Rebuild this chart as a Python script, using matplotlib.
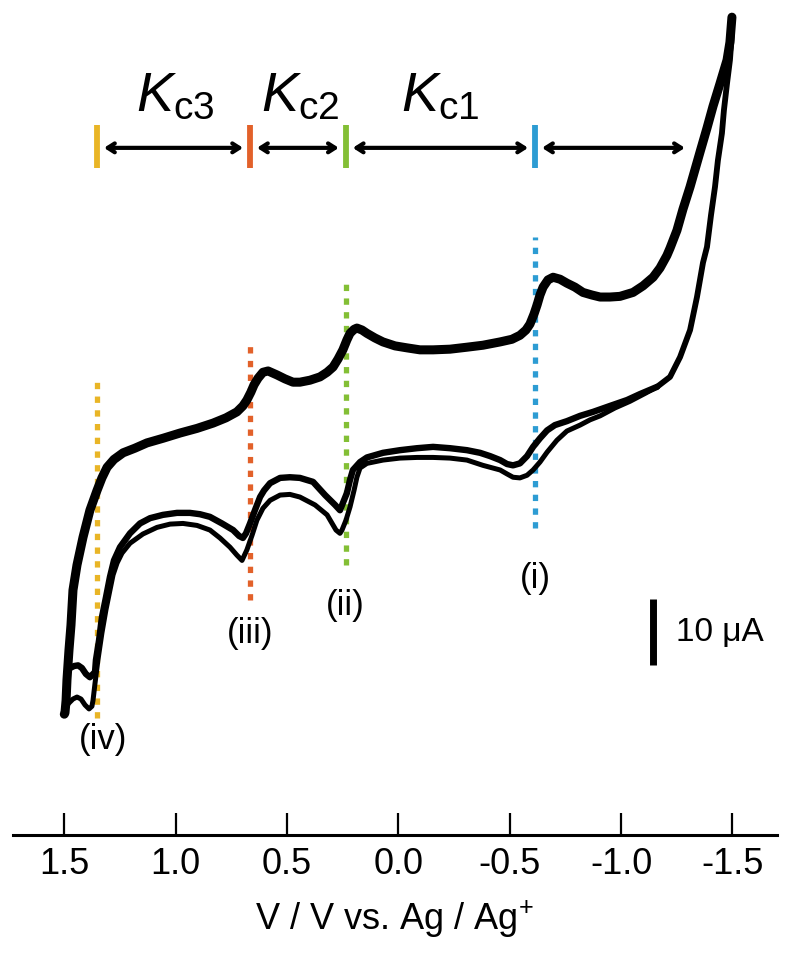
import numpy as np
import matplotlib
matplotlib.use('Agg')
from matplotlib import pyplot as plt

plt.rcParams['font.family'] = ['Liberation Sans', 'DejaVu Sans']
plt.rcParams['mathtext.fontset'] = 'custom'
plt.rcParams['mathtext.rm'] = 'Liberation Sans'
plt.rcParams['mathtext.it'] = 'Liberation Sans:italic'

# forward sweep, 1.5 V -> -1.5 V (all cycles overlap), current in uA
upper_v = [1.500, 1.497, 1.492, 1.488, 1.479, 1.470, 1.461, 1.443, 1.416, 1.385, 1.353,
           1.331, 1.308, 1.277, 1.236, 1.183, 1.129, 1.057, 0.980, 0.904, 0.832, 0.774,
           0.725, 0.698, 0.680, 0.662, 0.648, 0.630, 0.608, 0.585, 0.545, 0.509, 0.473,
           0.442, 0.397, 0.352, 0.320, 0.293, 0.271, 0.249, 0.231, 0.217, 0.199, 0.186,
           0.163, 0.141, 0.105, 0.069, 0.015, -0.039, -0.097, -0.156, -0.232, -0.308,
           -0.380, -0.457, -0.510, -0.546, -0.573, -0.591, -0.609, -0.623, -0.636, -0.650,
           -0.672, -0.695, -0.726, -0.757, -0.793, -0.829, -0.870, -0.906, -0.950, -0.995,
           -1.054, -1.099, -1.144, -1.175, -1.206, -1.220, -1.251, -1.278, -1.310, -1.355,
           -1.386, -1.413, -1.444, -1.476, -1.489, -1.498]
upper_i = [-29.4, -29.2, -27.3, -24.2, -19.7, -15.9, -10.6, -6.8, -2.6, 1.5, 4.5,
           6.4, 8.0, 9.2, 10.2, 10.9, 11.7, 12.4, 13.2, 13.9, 14.7, 15.5,
           16.4, 17.3, 18.2, 19.4, 20.5, 21.5, 22.4, 22.6, 22.0, 21.4, 20.9,
           20.9, 21.2, 21.7, 22.4, 23.2, 24.4, 25.8, 27.3, 28.3, 28.9, 29.1,
           28.8, 28.3, 27.6, 27.0, 26.4, 26.1, 25.8, 25.8, 25.9, 26.2,
           26.5, 27.0, 27.4, 28.0, 28.8, 29.7, 31.2, 32.6, 34.1, 35.3,
           36.4, 36.8, 36.5, 35.9, 35.3, 34.5, 34.1, 33.8, 33.8, 33.9,
           34.5, 35.5, 36.8, 38.2, 40.1, 41.2, 43.9, 47.1, 50.5, 55.8,
           59.4, 62.7, 66.1, 69.7, 72.4, 76.2]

# shared start of the reverse sweep at -1.5 V
turn_v = [-1.498, -1.498, -1.489, -1.476, -1.462, -1.453, -1.435, -1.422, -1.404, -1.386,
          -1.368, -1.341, -1.310, -1.265, -1.220, -1.162]
turn_i = [76.2, 73.8, 69.7, 66.2, 62.1, 58.6, 54.5, 50.5, 46.2, 41.4,
          39.0, 33.8, 28.8, 24.7, 21.7, 20.2]

# reverse sweep, cycles 2 and 3
rev_a_v = [-1.162, -1.085, -1.027, -0.950, -0.874, -0.816, -0.757, -0.703, -0.668, -0.636,
           -0.605, -0.578, -0.546, -0.515, -0.488, -0.457, -0.412, -0.367, -0.308, -0.232,
           -0.156, -0.084, -0.007, 0.069, 0.141, 0.172, 0.204, 0.217, 0.231, 0.249,
           0.262, 0.284, 0.329, 0.383, 0.442, 0.487, 0.531, 0.576, 0.603, 0.621,
           0.644, 0.666, 0.684, 0.698, 0.715, 0.742, 0.792, 0.846, 0.891, 0.936,
           0.994, 1.057, 1.115, 1.160, 1.205, 1.250, 1.277, 1.295, 1.313, 1.331,
           1.344, 1.358, 1.362, 1.385, 1.403, 1.421, 1.438, 1.456, 1.474, 1.483]
rev_a_i = [20.2, 19.1, 18.2, 17.3, 16.4, 15.8, 15.0, 14.4, 13.6, 12.4,
           11.1, 9.7, 8.6, 8.3, 8.5, 9.1, 9.7, 10.2, 10.6, 10.9,
           11.1, 10.9, 10.6, 10.2, 9.5, 8.8, 7.6, 6.1, 4.1, 2.6,
           1.5, 2.3, 3.8, 5.8, 6.4, 6.5, 6.4, 5.6, 4.5, 3.5,
           1.5, -0.5, -2.0, -2.7, -2.4, -1.5, -0.5, 0.5, 0.9, 1.1,
           1.1, 0.8, 0.3, -0.5, -2.0, -4.1, -6.1, -8.6, -11.7, -14.7,
           -18.2, -21.2, -23.0, -23.8, -23.3, -22.4, -22.0, -22.1, -22.4, -22.3]

# reverse sweep, cycle 1
rev_b_v = [-1.162, -1.108, -1.040, -0.973, -0.906, -0.861, -0.816, -0.757, -0.712, -0.668,
           -0.636, -0.605, -0.578, -0.546, -0.515, -0.488, -0.457, -0.380, -0.308, -0.232,
           -0.156, -0.084, -0.007, 0.069, 0.141, 0.172, 0.186, 0.199, 0.217, 0.235,
           0.253, 0.262, 0.280, 0.320, 0.374, 0.442, 0.487, 0.531, 0.576, 0.608,
           0.635, 0.657, 0.680, 0.702, 0.725, 0.756, 0.801, 0.846, 0.904, 0.967,
           1.025, 1.084, 1.147, 1.205, 1.241, 1.263, 1.281, 1.295, 1.313, 1.331,
           1.349, 1.362, 1.371, 1.376, 1.389, 1.407, 1.425, 1.443, 1.461, 1.479,
           1.497, 1.500]
rev_b_i = [20.2, 19.2, 18.0, 17.0, 15.8, 15.2, 14.4, 13.5, 12.1, 10.3,
           8.8, 7.6, 6.8, 6.4, 6.5, 7.0, 7.6, 8.3, 9.1, 9.4,
           9.5, 9.5, 9.4, 9.1, 8.6, 7.9, 6.5, 4.5, 2.0, 0.0,
           -1.5, -2.0, -1.5, 0.8, 2.3, 3.5, 3.9, 3.8, 3.0, 1.8,
           0.0, -2.3, -4.5, -6.1, -5.3, -4.1, -2.7, -1.5, -0.8, -0.5,
           -0.6, -1.1, -2.1, -3.5, -5.0, -6.5, -8.3, -10.6, -13.6, -17.1,
           -21.2, -24.7, -27.3, -28.2, -28.6, -28.0, -27.1, -26.8, -27.1, -27.7,
           -28.5, -29.4]

# formal potentials (iv), (iii), (ii), (i)
e_half = [1.353, 0.666, 0.236, -0.614]
e_colors = ['#E9B526', '#E2612A', '#83BF35', '#2D9CD3']
e_labels = ['(iv)', '(iii)', '(ii)', '(i)']
dot_top = [20.9, 26.8, 36.7, 42.9]
dot_bottom = [-29.9, -12.1, -6.8, -1.2]
label_y = [-33.3, -17.1, -12.9, -8.8]
label_x = [1.326, 0.666, 0.240, -0.614]
kc_labels = [r'$\mathit{K}_{\mathrm{c3}}$', r'$\mathit{K}_{\mathrm{c2}}$', r'$\mathit{K}_{\mathrm{c1}}$']
arrow_end = -1.318

fig = plt.figure(figsize=(7.9, 9.64), dpi=100)
ax = fig.add_axes([12.7 / 790, 129 / 964, 764 / 790, 835 / 964])

# dotted guides at each E1/2
for v, c, y0, y1 in zip(e_half, e_colors, dot_top, dot_bottom):
    ax.plot([v, v], [y1, y0], color=c, lw=3.8, linestyle=(0, (1.2, 1.4)),
            solid_capstyle='butt', dash_capstyle='butt', zorder=1)

line_kw = dict(color='black', solid_joinstyle='round', solid_capstyle='round', zorder=3)
ax.plot(upper_v, upper_i, lw=6.5, **line_kw)
ax.plot(turn_v, turn_i, lw=4.2, **line_kw)
ax.plot(rev_a_v, rev_a_i, lw=4.6, **line_kw)
ax.plot(rev_b_v, rev_b_i, lw=3.6, **line_kw)

# peak labels
for x, y, t in zip(label_x, label_y, e_labels):
    ax.text(x, y, t, fontsize=25, ha='center', va='center')

# Kc ranges along the top
marker_y = [53.3, 59.9]
arrow_y = 56.4
for v, c in zip(e_half, e_colors):
    ax.plot([v, v], marker_y, color=c, lw=4.2, solid_capstyle='butt', zorder=4)
bounds = e_half + [arrow_end]
for a, b in zip(bounds[:-1], bounds[1:]):
    ax.annotate('', xy=(b, arrow_y), xytext=(a, arrow_y),
                arrowprops=dict(arrowstyle='<->,head_length=0.5,head_width=0.32',
                                lw=3.0, color='black', shrinkA=5, shrinkB=5))
kc_x = [1.003, 0.442, -0.187]
for x, t in zip(kc_x, kc_labels):
    ax.text(x, 62.0, t, fontsize=40, ha='center', va='baseline')

# 10 uA scale bar
ax.plot([-1.142, -1.142], [-22.0, -12.0], color='black', lw=5, solid_capstyle='butt')
ax.text(-1.247, -17.0, '10 μA', fontsize=24, ha='left', va='center')

ax.set_xlim(1.7317, -1.699)
ax.set_ylim(-47.7, 78.8)
ax.set_xticks([1.5, 1.0, 0.5, 0.0, -0.5, -1.0, -1.5])
ax.set_xticklabels(['1.5', '1.0', '0.5', '0.0', '-0.5', '-1.0', '-1.5'])
ax.set_yticks([])
for s in ['top', 'left', 'right']:
    ax.spines[s].set_visible(False)
ax.spines['bottom'].set_linewidth(2.2)
ax.tick_params(axis='x', direction='in', length=16, width=1.6, pad=9, labelsize=26)
ax.set_xlabel('V / V vs. Ag / Ag$^{+}$', fontsize=26, labelpad=12)
ax.patch.set_alpha(0)

fig.savefig('out.png', dpi=100)
